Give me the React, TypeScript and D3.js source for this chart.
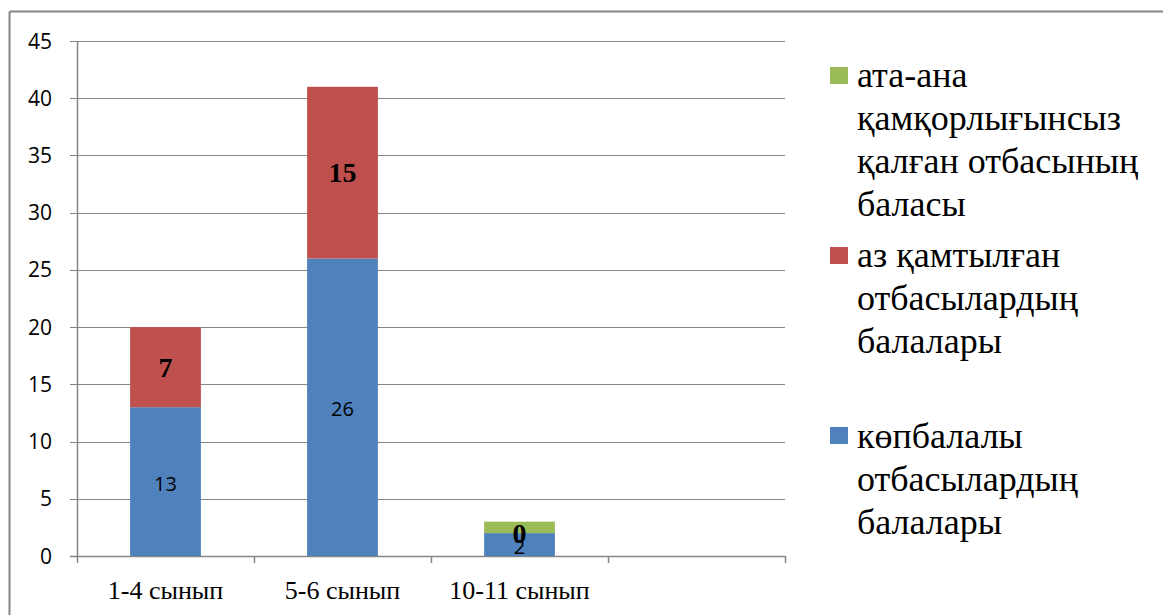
import React from "react";
import * as d3 from "d3";

const categories = ["1-4 сынып", "5-6 сынып", "10-11 сынып", ""];
const blueValues = [13, 26, 2, 0];
const redValues = [7, 15, 0, 0];
const greenValues = [0, 0, 1, 0];
const blueLabels = ["13", "26", "2", ""];
const redLabels = ["7", "15", "0", ""];
const yTicks = [0, 5, 10, 15, 20, 25, 30, 35, 40, 45];
const legendItems = [
  { key: "green", color: "#9BBB59", lines: ["ата-ана", "қамқорлығынсыз", "қалған отбасының", "баласы"] },
  { key: "red", color: "#C0504D", lines: ["аз қамтылған", "отбасылардың", "балалары"] },
  { key: "blue", color: "#4F81BD", lines: ["көпбалалы", "отбасылардың", "балалары"] },
];

const W = 1163;
const H = 615;
const left = 77;
const right = 785;
const top = 41;
const bottom = 556;
const gridColor = "#868686";

export default function App() {
  const x = d3.scaleBand<string>().domain(categories.map((c, i) => String(i))).range([left, right]).paddingInner(0).paddingOuter(0);
  const y = d3.scaleLinear().domain([0, 45]).range([bottom, top]);
  const barW = x.bandwidth() * 0.4;
  const series = [
    { key: "blue", color: "#4F81BD", values: blueValues },
    { key: "red", color: "#C0504D", values: redValues },
    { key: "green", color: "#9BBB59", values: greenValues },
  ];
  const stacked = categories.map((_, i) => {
    let acc = 0;
    return series.map((s) => {
      const y0 = acc;
      acc += s.values[i];
      return { key: s.key, color: s.color, y0, y1: acc };
    });
  });
  const numFont = "'Open Sans', sans-serif";
  const serif = "'Liberation Serif', 'Times New Roman', serif";
  const legendTops = [67, 247, 427];
  const legendBase = [87, 267, 448];
  return (
    <svg width={W} height={H} style={{ position: "absolute", left: 0, top: 0, background: "#fff" }}>
      <rect x={0} y={0} width={W} height={H} fill="#fff" />
      {/* outer border */}
      <line x1={9.5} y1={11.5} x2={W} y2={11.5} stroke={gridColor} strokeWidth={2} />
      <line x1={9.5} y1={11.5} x2={9.5} y2={H} stroke={gridColor} strokeWidth={2} />
      {/* grid */}
      {yTicks.map((t) => (
        <g key={t}>
          <line x1={left - 7} x2={right} y1={Math.round(y(t)) + 0.5} y2={Math.round(y(t)) + 0.5} stroke={gridColor} strokeWidth={t === 0 ? 1.5 : 1} />
          <text x={52} y={y(t)} dy="0.36em" textAnchor="end" fontFamily={numFont} fontSize={21} fill="#000">
            {t}
          </text>
        </g>
      ))}
      <line x1={left + 0.5} x2={left + 0.5} y1={top} y2={bottom + 7} stroke={gridColor} strokeWidth={1.5} />
      {categories.map((c, i) => (
        <line key={"xt" + i} x1={Math.round((x(String(i)) as number) + x.bandwidth()) + 0.5} x2={Math.round((x(String(i)) as number) + x.bandwidth()) + 0.5} y1={bottom} y2={bottom + 7} stroke={gridColor} strokeWidth={1.5} />
      ))}
      {/* bars */}
      {stacked.map((segs, i) => {
        const cx = (x(String(i)) as number) + x.bandwidth() / 2;
        return (
          <g key={"b" + i}>
            {segs.map((s) =>
              s.y1 > s.y0 ? (
                <rect key={s.key} x={cx - barW / 2} width={barW} y={y(s.y1)} height={y(s.y0) - y(s.y1)} fill={s.color} />
              ) : null
            )}
          </g>
        );
      })}
      {/* labels */}
      {stacked.map((segs, i) => {
        const cx = (x(String(i)) as number) + x.bandwidth() / 2;
        const b = segs[0];
        const r = segs[1];
        return (
          <g key={"l" + i}>
            {blueLabels[i] && (
              <text x={cx} y={y((b.y0 + b.y1) / 2) + 2} dy="0.36em" textAnchor="middle" fontFamily={numFont} fontSize={20} fill="#000">
                {blueLabels[i]}
              </text>
            )}
            {redLabels[i] && (
              <text x={cx} y={y((r.y0 + r.y1) / 2)} dy="0.35em" textAnchor="middle" fontFamily={serif} fontWeight="bold" fontSize={28} fill="#000">
                {redLabels[i]}
              </text>
            )}
          </g>
        );
      })}
      {/* x labels */}
      {categories.map((c, i) => (
        <text key={"xl" + i} x={(x(String(i)) as number) + x.bandwidth() / 2} y={599} textAnchor="middle" fontFamily={serif} fontSize={26} fill="#000">
          {c}
        </text>
      ))}
      {/* legend */}
      {legendItems.map((it, k) => (
        <g key={it.key}>
          <rect x={830} y={legendTops[k]} width={18} height={17} fill={it.color} />
          {it.lines.map((ln, j) => (
            <text key={j} x={857} y={legendBase[k] + j * 43} fontFamily={serif} fontSize={36} fill="#000">
              {ln}
            </text>
          ))}
        </g>
      ))}
    </svg>
  );
}
